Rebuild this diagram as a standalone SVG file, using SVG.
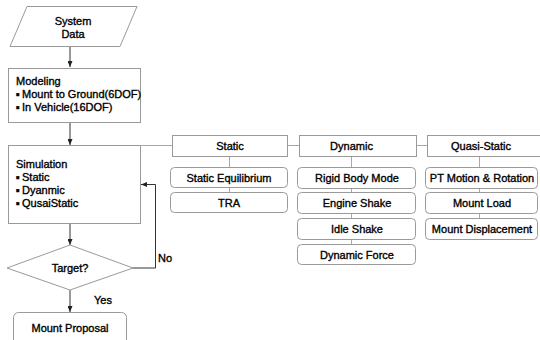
<svg xmlns="http://www.w3.org/2000/svg" width="540" height="340" viewBox="0 0 540 340">
<defs>
<style>
text{font-family:"Liberation Sans",Arial,sans-serif;font-size:11px;fill:#000;stroke:#000;stroke-width:0.35}
.c{text-anchor:middle}
.box{fill:#fff;stroke:#9a9a9a;stroke-width:1}
.ln{fill:none;stroke:#a8a8a8;stroke-width:1}
.ar{fill:none;stroke:#333;stroke-width:1}
</style>
<marker id="ah" markerUnits="userSpaceOnUse" markerWidth="6" markerHeight="5" refX="6" refY="2.5" orient="auto">
<path d="M0,0 L6,2.5 L0,5 z" fill="#222"/>
</marker>
</defs>
<rect width="540" height="340" fill="#fff"/>
<g id="connectors">
<line class="ar" x1="70" y1="47" x2="70" y2="67" marker-end="url(#ah)"/>
<line class="ar" x1="70" y1="123" x2="70" y2="145" marker-end="url(#ah)"/>
<line class="ar" x1="70" y1="224" x2="70" y2="245" marker-end="url(#ah)"/>
<line class="ar" x1="70" y1="290" x2="70" y2="312" marker-end="url(#ah)"/>
<polyline class="ar" points="133,268 155.5,268 155.5,184.5 141,184.5" marker-end="url(#ah)"/>
<line class="ln" x1="141" y1="145.5" x2="172" y2="145.5"/>
<line class="ln" x1="288" y1="145.5" x2="299" y2="145.5"/>
<line class="ln" x1="417" y1="145.5" x2="427" y2="145.5"/>
<line class="ln" x1="229.5" y1="157" x2="229.5" y2="192"/>
<line class="ln" x1="351.5" y1="157" x2="351.5" y2="244"/>
<line class="ln" x1="479.5" y1="157" x2="479.5" y2="218"/>
<text x="158" y="262">No</text>
<text x="94" y="304">Yes</text>
</g>
<g id="system-data">
<polygon class="box" points="27,6.5 137,6.5 120,46.5 10,46.5"/>
<text class="c" x="73" y="25">System</text>
<text class="c" x="73" y="38">Data</text>
</g>
<g id="modeling">
<rect class="box" x="8.5" y="68.5" width="132" height="54"/>
<text x="16" y="85">Modeling</text>
<text x="16" y="98">▪<tspan x="22">Mount to Ground(6DOF)</tspan></text>
<text x="16" y="111">▪<tspan x="22">In Vehicle(16DOF)</tspan></text>
</g>
<g id="simulation">
<rect class="box" x="8.5" y="145.5" width="132" height="78"/>
<text x="16" y="168">Simulation</text>
<text x="16" y="181">▪<tspan x="22">Static</tspan></text>
<text x="16" y="194">▪<tspan x="22">Dyanmic</tspan></text>
<text x="16" y="207">▪<tspan x="22">QusaiStatic</tspan></text>
</g>
<g id="target">
<polygon class="box" points="70,245 133,268 70,290 7,268"/>
<text class="c" x="70" y="272">Target?</text>
</g>
<g id="mount-proposal">
<rect class="box" x="13.5" y="312.5" width="113" height="40" rx="5"/>
<text class="c" x="70" y="332">Mount Proposal</text>
</g>
<g id="static">
<rect class="box" x="172.5" y="135.5" width="115" height="21"/>
<text class="c" x="230" y="150">Static</text>
</g>
<g id="static-equilibrium">
<rect class="box" x="170.5" y="167.5" width="117" height="20" rx="4"/>
<text class="c" x="229" y="181.5">Static Equilibrium</text>
</g>
<g id="tra">
<rect class="box" x="170.5" y="192.5" width="117" height="20" rx="4"/>
<text class="c" x="229" y="206.5">TRA</text>
</g>
<g id="dynamic">
<rect class="box" x="299.5" y="135.5" width="117" height="21"/>
<text class="c" x="351.5" y="150">Dynamic</text>
</g>
<g id="rigid-body-mode">
<rect class="box" x="297.5" y="167.5" width="118" height="21" rx="4"/>
<text class="c" x="357" y="182">Rigid Body Mode</text>
</g>
<g id="engine-shake">
<rect class="box" x="297.5" y="192.5" width="118" height="21" rx="4"/>
<text class="c" x="357" y="207">Engine Shake</text>
</g>
<g id="idle-shake">
<rect class="box" x="297.5" y="218.5" width="118" height="21" rx="4"/>
<text class="c" x="357" y="233">Idle Shake</text>
</g>
<g id="dynamic-force">
<rect class="box" x="297.5" y="244.5" width="118" height="20" rx="4"/>
<text class="c" x="357" y="258.5">Dynamic Force</text>
</g>
<g id="quasi-static">
<rect class="box" x="427.5" y="135.5" width="118" height="21"/>
<text class="c" x="481" y="150">Quasi-Static</text>
</g>
<g id="pt-motion">
<rect class="box" x="425.5" y="167.5" width="112" height="21" rx="4"/>
<text class="c" x="482" y="182">PT Motion &amp; Rotation</text>
</g>
<g id="mount-load">
<rect class="box" x="425.5" y="192.5" width="112" height="21" rx="4"/>
<text class="c" x="482" y="207">Mount Load</text>
</g>
<g id="mount-displacement">
<rect class="box" x="425.5" y="218.5" width="112" height="21" rx="4"/>
<text class="c" x="482" y="233">Mount Displacement</text>
</g>
</svg>
